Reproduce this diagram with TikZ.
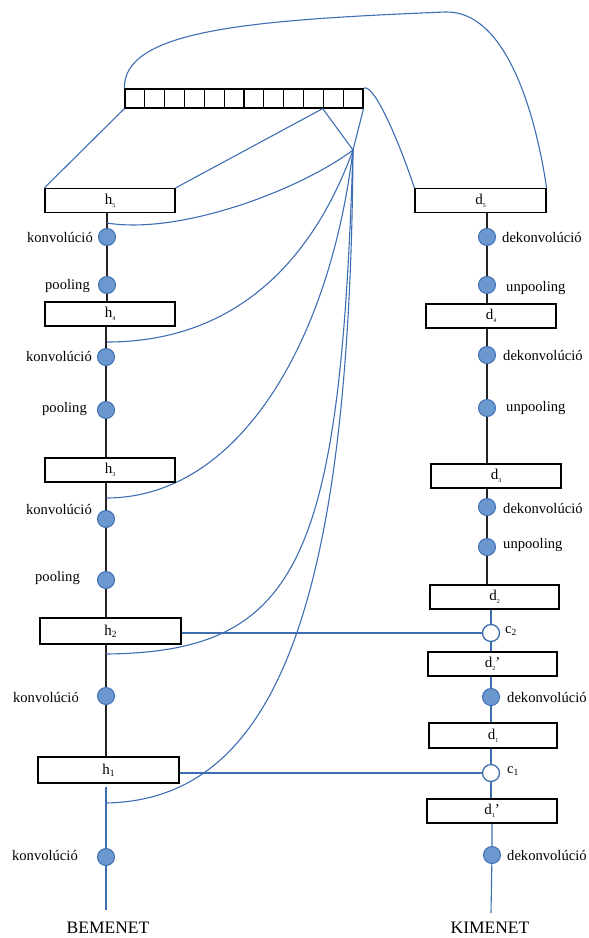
\documentclass[tikz,border=0pt]{standalone}
\usepackage{fontspec}
\setmainfont{Liberation Serif}
\definecolor{linkblue}{RGB}{62,110,178}
\definecolor{dotfill}{RGB}{108,152,208}
\definecolor{chainc}{RGB}{35,35,35}
\newcommand{\tsub}[1]{\raisebox{-0.45ex}{\fontsize{6}{6}\selectfont #1}}
\newcommand{\msub}[1]{\raisebox{-0.35ex}{\fontsize{9.5}{9.5}\selectfont #1}}
\begin{document}
\begin{tikzpicture}[x=1pt,y=-1pt,
  layer/.style={draw=black, line width=1.2pt, fill=white, minimum height=24pt, inner sep=0pt,
                font=\fontsize{15}{16}\selectfont},
  cell/.style={draw=black, line width=1.2pt, fill=white, minimum width=19.83pt, minimum height=19pt, inner sep=0pt},
  op/.style={circle, draw=linkblue, fill=dotfill, line width=1pt, minimum size=17pt, inner sep=0pt},
  merge/.style={circle, draw=linkblue, fill=white, line width=1.3pt, minimum size=17pt, inner sep=0pt},
  lab/.style={font=\fontsize{14.6}{16}\selectfont, inner sep=0pt},
  io/.style={font=\fontsize{17.5}{19}\selectfont, inner sep=0pt},
  chainline/.style={draw=chainc, line width=1.2pt},
  link/.style={draw=linkblue, line width=1.1pt},
]
\useasboundingbox (0,0) rectangle (589,938);

% memory vector of 12 cells
\foreach \i in {1,...,12} {
  \node[cell] (m\i) at ({125+19.83*(\i-0.5)},98.5) {};
}
\coordinate (hub) at (353,150);

% attachment points on the encoder chain
\coordinate (e5) at (107,223);
\coordinate (e4) at (107,342);
\coordinate (e3) at (106,498);
\coordinate (e2) at (106,654);
\coordinate (e1) at (106,803);
\coordinate (inp) at (106,787);
\coordinate (inend) at (106,910);
\coordinate (outend) at (491,913);

% encoder operations
\node[op] (k5) at (107,237) {};
\node[op] (p5) at (107,285) {};
\node[op] (k4) at (106,357) {};
\node[op] (p4) at (106,410) {};
\node[op] (k3) at (106,519) {};
\node[op] (p3) at (106,580) {};
\node[op] (k2) at (106,696) {};
\node[op] (k1) at (106,857) {};

% decoder operations
\node[op] (dk5) at (487,237) {};
\node[op] (up5) at (487,285) {};
\node[op] (dk4) at (487,355) {};
\node[op] (up4) at (487,408) {};
\node[op] (dk3) at (487,507) {};
\node[op] (up3) at (487,547) {};
\node[merge] (c2) at (491,633) {};
\node[op] (dk2) at (491,697) {};
\node[merge] (c1) at (491,773) {};
\node[op] (dk1) at (492,855) {};

% chains (drawn below the boxes)
\draw[chainline] (k5 |- 0,213) -- (k5) -- (p5) -- (p5 |- 0,302);
\draw[chainline] (k4 |- 0,326) -- (k4) -- (p4) -- (p4 |- 0,458);
\draw[chainline] (k3 |- 0,482) -- (k3) -- (p3) -- (p3 |- 0,618);
\draw[chainline] (k2 |- 0,644) -- (k2) -- (k2 |- 0,757);
\draw[link] (inp) -- (k1) -- (inend);

\draw[chainline] (dk5 |- 0,213) -- (dk5) -- (up5) -- (up5 |- 0,304);
\draw[chainline] (dk4 |- 0,328) -- (dk4) -- (up4) -- (up4 |- 0,464);
\draw[chainline] (dk3 |- 0,488) -- (dk3) -- (up3) -- (up3 |- 0,585);
\draw[link] (c2 |- 0,609) -- (c2) -- (c2 |- 0,652);
\draw[link] (dk2 |- 0,676) -- (dk2) -- (dk2 |- 0,723);
\draw[link] (c1 |- 0,748) -- (c1) -- (c1 |- 0,799);
\draw[link] (dk1 |- 0,823) -- (dk1) -- (outend);

% links from the memory to the encoder states
\draw[link] (e5) .. controls (180,235) and (300,190) .. (hub);
\draw[link] (e4) .. controls (240,342) and (315,255) .. (hub);
\draw[link] (e3) .. controls (240,498) and (330,340) .. (hub);
\draw[link] (e2) .. controls (300,652) and (340,560) .. (hub);
\draw[link] (e1) .. controls (270,800) and (350,620) .. (hub);
\draw[link] (m11.south west) -- (hub);
\draw[link] (m12.south east) -- (hub);

% encoder layers
\node[layer, minimum width=130pt] (h5) at (110,200.5) {h\tsub{5}};
\node[layer, minimum width=130pt] (h4) at (110,314) {h\tsub{4}};
\node[layer, minimum width=130pt] (h3) at (110,470) {h\tsub{3}};
\node[layer, minimum width=141pt, minimum height=26pt] (h2) at (110.5,631) {h\msub{2}};
\node[layer, minimum width=141pt, minimum height=26pt] (h1) at (108.5,770) {h\msub{1}};

% decoder layers
\node[layer, minimum width=131pt] (d5) at (480.5,200.5) {d\tsub{5}};
\node[layer, minimum width=130pt] (d4) at (491,316) {d\tsub{4}};
\node[layer, minimum width=130pt] (d3) at (496,476) {d\tsub{3}};
\node[layer, minimum width=129pt] (d2) at (494.5,597) {d\tsub{2}};
\node[layer, minimum width=129pt] (d2p) at (492.5,664) {d\tsub{2}’};
\node[layer, minimum width=128pt, minimum height=25pt] (d1) at (493,735.5) {d\tsub{1}};
\node[layer, minimum width=130pt] (d1p) at (492,811) {d\tsub{1}’};

% memory links to the outer layers
\draw[link] (m1.south west) -- (h5.north west);
\draw[link] (m11.south west) -- (h5.north east);
\draw[link] (m12.north east) .. controls (372,82) and (395,130) .. (d5.north west);
\draw[link] (m1.north west) .. controls (123,30) and (250,20) .. (445,12)
            .. controls (505,10) and (535,110) .. (d5.north east);

% skip connections
\draw[link] (c2 -| h2.east) -- (c2.west);
\draw[link] (c1 -| h1.east) -- (c1.west);

% operation labels, encoder
\node[lab, anchor=east] (lk5) at (93,237) {konvolúció};
\node[lab, anchor=east] (lp5) at (90,286) {pooling};
\node[lab, anchor=east] (lk4) at (92,356) {konvolúció};
\node[lab, anchor=east] (lp4) at (87,409) {pooling};
\node[lab, anchor=east] (lk3) at (92,509) {konvolúció};
\node[lab, anchor=east] (lp3) at (80,578) {pooling};
\node[lab, anchor=east] (lk2) at (79,697) {konvolúció};
\node[lab, anchor=east] (lk1) at (78,855) {konvolúció};

% operation labels, decoder
\node[lab, anchor=west] (ldk5) at (502,237) {dekonvolúció};
\node[lab, anchor=west] (lup5) at (506,288) {unpooling};
\node[lab, anchor=west] (ldk4) at (503,355) {dekonvolúció};
\node[lab, anchor=west] (lup4) at (506,408) {unpooling};
\node[lab, anchor=west] (ldk3) at (503,508) {dekonvolúció};
\node[lab, anchor=west] (lup3) at (503,545) {unpooling};
\node[lab, anchor=west] (lc2) at (505,631) {c\msub{2}};
\node[lab, anchor=west] (ldk2) at (507,697) {dekonvolúció};
\node[lab, anchor=west] (lc1) at (507,771) {c\msub{1}};
\node[lab, anchor=west] (ldk1) at (507,855) {dekonvolúció};

% input and output
\node[io] (bem) at (108,928) {BEMENET};
\node[io] (kim) at (490,928) {KIMENET};
\end{tikzpicture}
\end{document}
